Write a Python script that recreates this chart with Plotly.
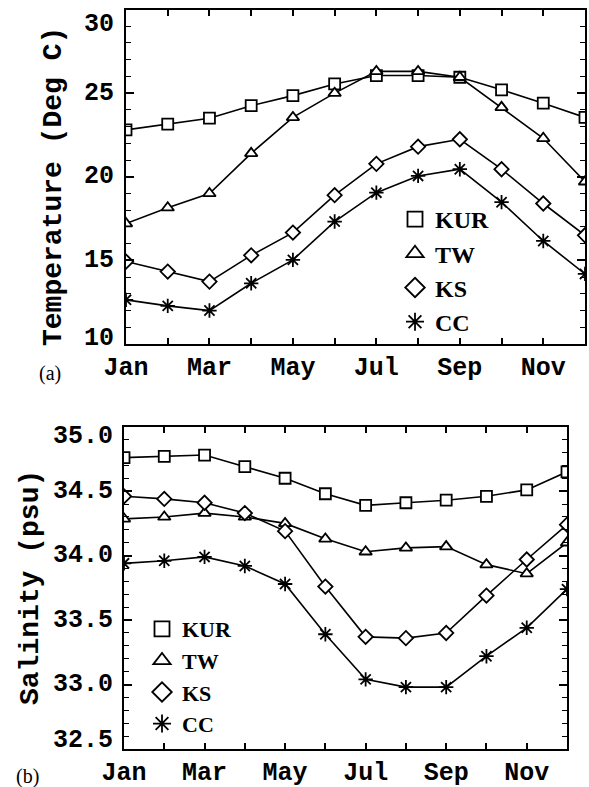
import plotly.graph_objects as go

months = [1, 2, 3, 4, 5, 6, 7, 8, 9, 10, 11, 12]
month_names = ['Jan', 'Feb', 'Mar', 'Apr', 'May', 'Jun', 'Jul', 'Aug', 'Sep', 'Oct', 'Nov', 'Dec']
series_names = ['KUR', 'TW', 'KS', 'CC']

temp_kur = [22.8, 23.15, 23.5, 24.25, 24.85, 25.55, 26.05, 26.05, 25.95, 25.2, 24.4, 23.55]
temp_tw = [17.2, 18.15, 19.0, 21.4, 23.55, 25.0, 26.3, 26.3, 25.95, 24.15, 22.3, 19.7]
temp_ks = [14.93, 14.33, 13.73, 15.3, 16.66, 18.9, 20.77, 21.8, 22.24, 20.45, 18.4, 16.5]
temp_cc = [12.64, 12.28, 12.0, 13.63, 15.03, 17.32, 19.05, 20.05, 20.45, 18.48, 16.16, 14.19]

sal_kur = [34.76, 34.77, 34.78, 34.69, 34.60, 34.48, 34.39, 34.41, 34.43, 34.46, 34.51, 34.65]
sal_tw = [34.285, 34.30, 34.33, 34.30, 34.25, 34.13, 34.03, 34.06, 34.07, 33.93, 33.86, 34.10]
sal_ks = [34.46, 34.44, 34.41, 34.33, 34.19, 33.76, 33.37, 33.36, 33.40, 33.69, 33.97, 34.24]
sal_cc = [33.94, 33.96, 33.99, 33.92, 33.78, 33.39, 33.04, 32.98, 32.98, 33.22, 33.44, 33.74]

temp_ticks = [10, 15, 20, 25, 30]
temp_ticklabels = ['10', '15', '20', '25', '30']
sal_ticks = [32.5, 33.0, 33.5, 34.0, 34.5, 35.0]
sal_ticklabels = ['32.5', '33.0', '33.5', '34.0', '34.5', '35.0']

W, H = 589, 787
symbols = ['square', 'triangle-up', 'diamond', 'asterisk-open']
fills = ['white', 'white', 'white', 'black']
sizes = [11, 11, 11, 12]
legend_sizes = [15, 15, 15, 15]

mono = dict(family='Liberation Mono', size=25, color='black', weight='bold')

fig = go.Figure()

temp_data = [temp_kur, temp_tw, temp_ks, temp_cc]
sal_data = [sal_kur, sal_tw, sal_ks, sal_cc]

for name, vals, sym, sz, fc in zip(series_names, temp_data, symbols, sizes, fills):
    fig.add_trace(go.Scatter(
        x=months, y=vals, mode='lines+markers', xaxis='x', yaxis='y',
        line=dict(color='black', width=1.6), showlegend=False,
        marker=dict(symbol=sym, size=sz, color=fc,
                    line=dict(color='black', width=1.8))))
for name, vals, sym, sz, fc in zip(series_names, sal_data, symbols, sizes, fills):
    fig.add_trace(go.Scatter(
        x=months, y=vals, mode='lines+markers', xaxis='x2', yaxis='y2',
        line=dict(color='black', width=1.6), showlegend=False,
        marker=dict(symbol=sym, size=sz, color=fc,
                    line=dict(color='black', width=1.8))))

# legend entries
for lg, xa, ya in [('legend', 'x', 'y'), ('legend2', 'x2', 'y2')]:
    for name, sym, sz, fc in zip(series_names, symbols, legend_sizes, fills):
        fig.add_trace(go.Scatter(
            x=[None], y=[None], mode='markers', name=name, legend=lg,
            xaxis=xa, yaxis=ya,
            marker=dict(symbol=sym, size=sz, color=fc,
                        line=dict(color='black', width=1.8))))

def px_x(p):
    return p / W

def px_y(p):
    return 1 - p / H

xa_common = dict(
    range=[1, 12], tickvals=months,
    ticktext=[m if i % 2 == 0 else '' for i, m in enumerate(month_names)],
    ticks='inside', ticklen=6, tickwidth=1.5, tickcolor='black',
    showline=True, linecolor='black', linewidth=2, mirror='ticks',
    showgrid=False, zeroline=False, automargin=False,
    tickfont=dict(family='Liberation Mono', size=25, color='black', weight='bold'),
    ticklabelstandoff=-1,
)

ya_common = dict(
    ticks='inside', ticklen=8, tickwidth=1.5, tickcolor='black',
    showline=True, linecolor='black', linewidth=2, mirror='ticks',
    showgrid=False, zeroline=False, showticklabels=False, automargin=False,
)

fig.update_layout(
    width=W, height=H,
    margin=dict(l=0, r=0, t=0, b=0, autoexpand=False),
    paper_bgcolor='white', plot_bgcolor='white',
    xaxis=dict(domain=[px_x(126), px_x(585)], anchor='y', **xa_common),
    yaxis=dict(domain=[px_y(344), px_y(9.5)], anchor='x', range=[10, 30],
               tickvals=temp_ticks,
               minor=dict(dtick=1, ticks='inside', ticklen=5, tickcolor='black', tickwidth=1.2),
               **ya_common),
    xaxis2=dict(domain=[px_x(124), px_x(567)], anchor='y2', **xa_common),
    yaxis2=dict(domain=[px_y(749), px_y(426.7)], anchor='x2', range=[32.5, 35.0],
                tickvals=sal_ticks,
                minor=dict(dtick=0.1, ticks='inside', ticklen=5, tickcolor='black', tickwidth=1.2),
                **ya_common),
    legend=dict(x=px_x(395), y=px_y(197), xanchor='left', yanchor='top',
                bgcolor='rgba(0,0,0,0)', borderwidth=0, tracegroupgap=0,
                font=dict(family='Liberation Serif', size=24, color='black', weight='bold')),
    legend2=dict(x=px_x(142), y=px_y(608), xanchor='left', yanchor='top',
                 bgcolor='rgba(0,0,0,0)', borderwidth=0, tracegroupgap=0,
                 font=dict(family='Liberation Serif', size=22, color='black', weight='bold')),
)

ann = []
for v, t in zip(temp_ticks, temp_ticklabels):
    shift = 0
    if v == 30:
        shift = -15
    elif v == 10:
        shift = 6
    ann.append(dict(x=px_x(126), xref='paper', xanchor='right', xshift=-10,
                    y=v, yref='y', yanchor='middle', yshift=shift,
                    text=t, showarrow=False, font=mono))
for v, t in zip(sal_ticks, sal_ticklabels):
    shift = 0
    if v == 35.0:
        shift = -10
    elif v == 32.5:
        shift = 9
    ann.append(dict(x=px_x(124), xref='paper', xanchor='right', xshift=-9,
                    y=v, yref='y2', yanchor='middle', yshift=shift,
                    text=t, showarrow=False, font=mono))

title_font = dict(family='Liberation Mono', size=28, color='black', weight='bold')
ann.append(dict(x=px_x(53), y=px_y(187), xref='paper', yref='paper',
                text='Temperature (Deg C)', textangle=-90, showarrow=False,
                xanchor='center', yanchor='middle', font=title_font))
ann.append(dict(x=px_x(30), y=px_y(588), xref='paper', yref='paper',
                text='Salinity (psu)', textangle=-90, showarrow=False,
                xanchor='center', yanchor='middle', font=title_font))
ann.append(dict(x=px_x(50), y=px_y(373), xref='paper', yref='paper',
                text='(a)', showarrow=False, xanchor='center', yanchor='middle',
                font=dict(family='Liberation Serif', size=20, color='black')))
ann.append(dict(x=px_x(27), y=px_y(776), xref='paper', yref='paper',
                text='(b)', showarrow=False, xanchor='center', yanchor='middle',
                font=dict(family='Liberation Serif', size=20, color='black')))
fig.update_layout(annotations=ann)

fig.write_html('out.html', config={'displayModeBar': False},
               post_script="document.body.style.margin='0';document.body.style.overflow='hidden';")
